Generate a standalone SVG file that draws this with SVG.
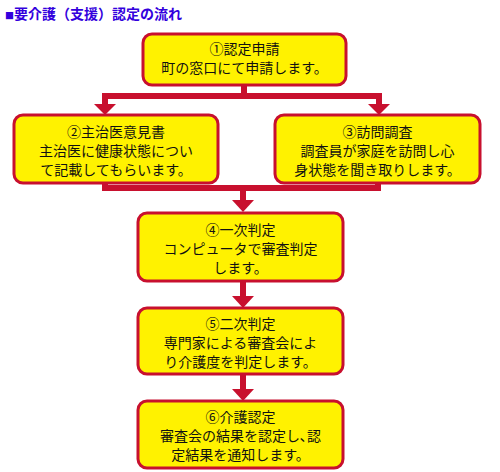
<svg xmlns="http://www.w3.org/2000/svg" width="500" height="472" viewBox="0 0 500 472">
<defs>
<style>
.box{fill:#fff200;stroke:#c8102e;stroke-width:3}
.t{font-family:"Noto Sans CJK JP","Noto Sans",sans-serif;font-size:14px;fill:#111;text-anchor:middle}
.ln{fill:none;stroke:#c8102e;stroke-width:6;stroke-linejoin:miter}
.ah{fill:#c8102e}
.title{font-family:"Noto Sans CJK JP",sans-serif;font-size:14px;font-weight:bold;fill:#3300dd}
</style>
</defs>
<rect width="500" height="472" fill="#fff"/>
<text class="title" x="5" y="19"><tspan font-size="9">■</tspan>要介護（支援）認定の流れ</text>
<g id="connectors">
<polyline class="ln" points="244,85 244,96 105,96 105,104"/>
<polyline class="ln" points="244,96 379,96 379,104"/>
<polygon class="ah" points="94,104 116,104 105,115"/>
<polygon class="ah" points="368,104 390,104 379,115"/>
<polyline class="ln" points="105,183 105,188 378,188 378,183"/>
<polyline class="ln" points="243,188 243,201"/>
<polygon class="ah" points="232,200 254,200 243,212"/>
<polyline class="ln" points="243,281 243,297"/>
<polygon class="ah" points="232,296 254,296 243,308"/>
<polyline class="ln" points="243,374 243,390"/>
<polygon class="ah" points="232,389 254,389 243,401"/>
</g>
<g id="n1">
<rect class="box" x="143" y="34" width="203" height="51" rx="9"/>
<text class="t" x="244.5" y="54">①認定申請</text>
<text class="t" x="244.5" y="73">町の窓口にて申請します。</text>
</g>
<g id="n2">
<rect class="box" x="14" y="115" width="204" height="68" rx="9"/>
<text class="t" x="116" y="137">②主治医意見書</text>
<text class="t" x="116" y="156">主治医に健康状態につい</text>
<text class="t" x="116" y="175">て記載してもらいます。</text>
</g>
<g id="n3">
<rect class="box" x="275" y="115" width="205" height="68" rx="9"/>
<text class="t" x="377.5" y="137">③訪問調査</text>
<text class="t" x="377.5" y="156">調査員が家庭を訪問し心</text>
<text class="t" x="377.5" y="175">身状態を聞き取りします。</text>
</g>
<g id="n4">
<rect class="box" x="138" y="213" width="205" height="68" rx="9"/>
<text class="t" x="240.5" y="235">④一次判定</text>
<text class="t" x="240.5" y="254">コンピュータで審査判定</text>
<text class="t" x="240.5" y="273">します。</text>
</g>
<g id="n5">
<rect class="box" x="138" y="308" width="205" height="66" rx="9"/>
<text class="t" x="240.5" y="329">⑤二次判定</text>
<text class="t" x="240.5" y="348">専門家による審査会によ</text>
<text class="t" x="240.5" y="367">り介護度を判定します。</text>
</g>
<g id="n6">
<rect class="box" x="138" y="401" width="205" height="67" rx="9"/>
<text class="t" x="240.5" y="422">⑥介護認定</text>
<text class="t" x="240.5" y="441">審査会の結果を認定し､認</text>
<text class="t" x="240.5" y="460">定結果を通知します。</text>
</g>
</svg>
